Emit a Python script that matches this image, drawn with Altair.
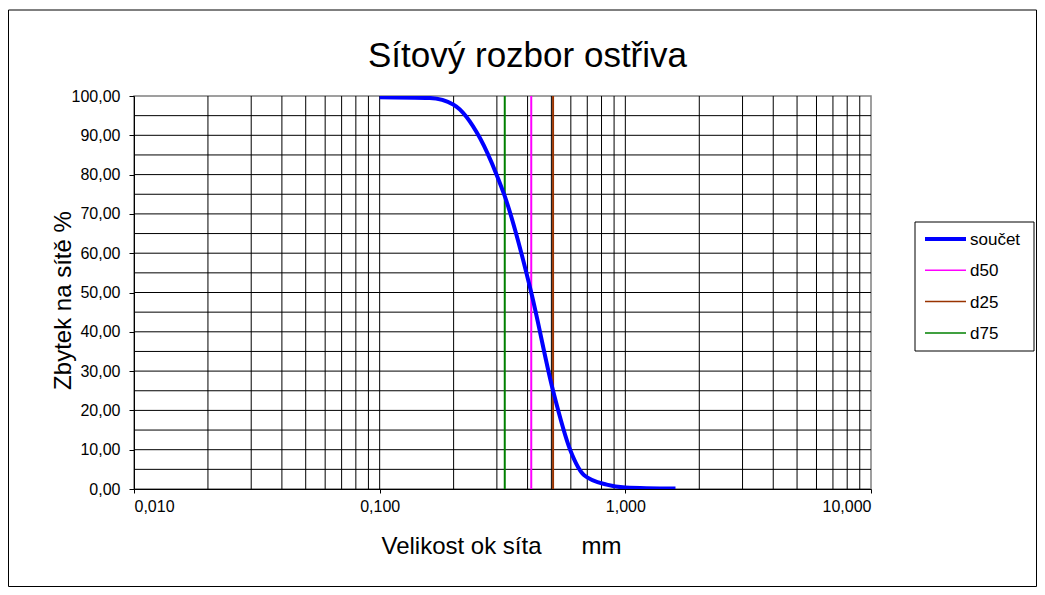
import altair as alt
import pandas as pd

# ---- data ----
sieve_mm = [0.1, 0.16, 0.2, 0.256, 0.3, 0.323, 0.414, 0.508, 0.596, 0.68, 0.84, 1.0, 1.6]
residue_pct = [99.7, 99.5, 97.8, 89.3, 79.8, 74.5, 50.0, 25.0, 10.0, 3.5, 1.1, 0.4, 0.1]
marker_names = ["d50", "d25", "d75"]
marker_mm = [0.414, 0.508, 0.323]
series_names = ["součet", "d50", "d25", "d75"]
series_colors = ["#0000FF", "#FF00FF", "#993300", "#008000"]
series_widths = [4, 1.5, 1.5, 1.5]
x_ticks = [0.01, 0.1, 1, 10]
y_ticks = list(range(0, 101, 10))
title_text = "Sítový rozbor ostřiva"
x_title = "Velikost ok síta\u00a0\u00a0\u00a0\u00a0\u00a0 mm"
y_title = "Zbytek na sítě %"

FONT = "Liberation Sans"
W, H = 737, 393

curve = pd.DataFrame({"x": sieve_mm, "y": residue_pct})
markers = pd.DataFrame({"x": marker_mm, "name": marker_names})
grid_y = pd.DataFrame({"y": [v for v in range(5, 100, 5)]})
grid_x = pd.DataFrame({"x": [k * 10.0 ** d for d in (-2, -1, 0) for k in range(2, 10)] + [0.1, 1.0]})
one = pd.DataFrame({"a": [0]})

xscale = alt.Scale(type="log", domain=[0.01, 10], nice=False)
yscale = alt.Scale(domain=[0, 100], nice=False, zero=True)

xaxis = alt.Axis(
    values=x_ticks, title=x_title, grid=False,
    labelExpr="replace(format(datum.value, '.3f'), '.', ',')",
    labelFont=FONT, labelFontSize=16, labelColor="black", labelPadding=5,
    tickSize=4, tickColor="black", domainColor="black",
    titleFont=FONT, titleFontSize=24, titleFontWeight="normal", titleColor="black",
    titleX=367, titleY=64, titleBaseline="alphabetic", titleAlign="center",
)
yaxis = alt.Axis(
    values=y_ticks, title=y_title, grid=False,
    labelExpr="replace(format(datum.value, '.2f'), '.', ',')",
    labelFont=FONT, labelFontSize=16, labelColor="black", labelPadding=9,
    tickSize=5, tickColor="black", domainColor="black",
    titleFont=FONT, titleFontSize=24, titleFontWeight="normal", titleColor="black",
    titleX=-64, titleY=204, titleBaseline="alphabetic", titleAlign="center", titleAngle=-90,
)

X = lambda f: alt.X(f, type="quantitative", scale=xscale, axis=xaxis)
Y = lambda f: alt.Y(f, type="quantitative", scale=yscale, axis=yaxis)

base_curve = alt.Chart(curve).mark_line(
    color="#0000FF", strokeWidth=4, interpolate="monotone", clip=True
).encode(x=X("x"), y=Y("y"))

gh = alt.Chart(grid_y).mark_rule(color="#000000", strokeWidth=1).encode(y=Y("y"))
gv = alt.Chart(grid_x).mark_rule(color="#000000", strokeWidth=1).encode(x=X("x"))

mk = alt.Chart(markers).mark_rule(strokeWidth=2).encode(
    x=X("x"),
    color=alt.Color("name:N", scale=alt.Scale(domain=series_names, range=series_colors), legend=None),
)

title = alt.Chart(one).mark_text(
    text=title_text, font=FONT, fontSize=35, align="center", baseline="alphabetic", color="black"
).encode(x=alt.value(393.5), y=alt.value(-29))

border = alt.Chart(one).mark_rect(fill=None, stroke="black", strokeWidth=1, fillOpacity=0).encode(
    x=alt.value(-125.5), x2=alt.value(902.5), y=alt.value(-86), y2=alt.value(490.5)
)

# manual legend
lg_left, lg_right, lg_top, lg_bottom = 781, 900, 126, 255
legend_box = alt.Chart(one).mark_rect(fill="white", stroke="black", strokeWidth=1).encode(
    x=alt.value(lg_left), x2=alt.value(lg_right), y=alt.value(lg_top), y2=alt.value(lg_bottom)
)
legend_layers = [legend_box]
for i, (nm, col, sw) in enumerate(zip(series_names, series_colors, series_widths)):
    yy = 143 + i * 31.3
    legend_layers.append(
        alt.Chart(one).mark_rule(color=col, strokeWidth=sw).encode(
            x=alt.value(791), x2=alt.value(832), y=alt.value(yy)
        )
    )
    legend_layers.append(
        alt.Chart(one).mark_text(
            text=nm, font=FONT, fontSize=17, align="left", baseline="middle", color="black"
        ).encode(x=alt.value(836), y=alt.value(yy + 1))
    )

chart = alt.layer(
    gh, gv, mk, base_curve, title, border, *legend_layers
).properties(
    width=W, height=H,
    autosize=alt.AutoSizeParams(type="none"),
    padding={"left": 126, "top": 88, "right": 166, "bottom": 98},
    background="white",
).configure_view(stroke="#808080", strokeWidth=1.5)

chart.save("out.html", embed_options={"renderer": "svg", "actions": False})
